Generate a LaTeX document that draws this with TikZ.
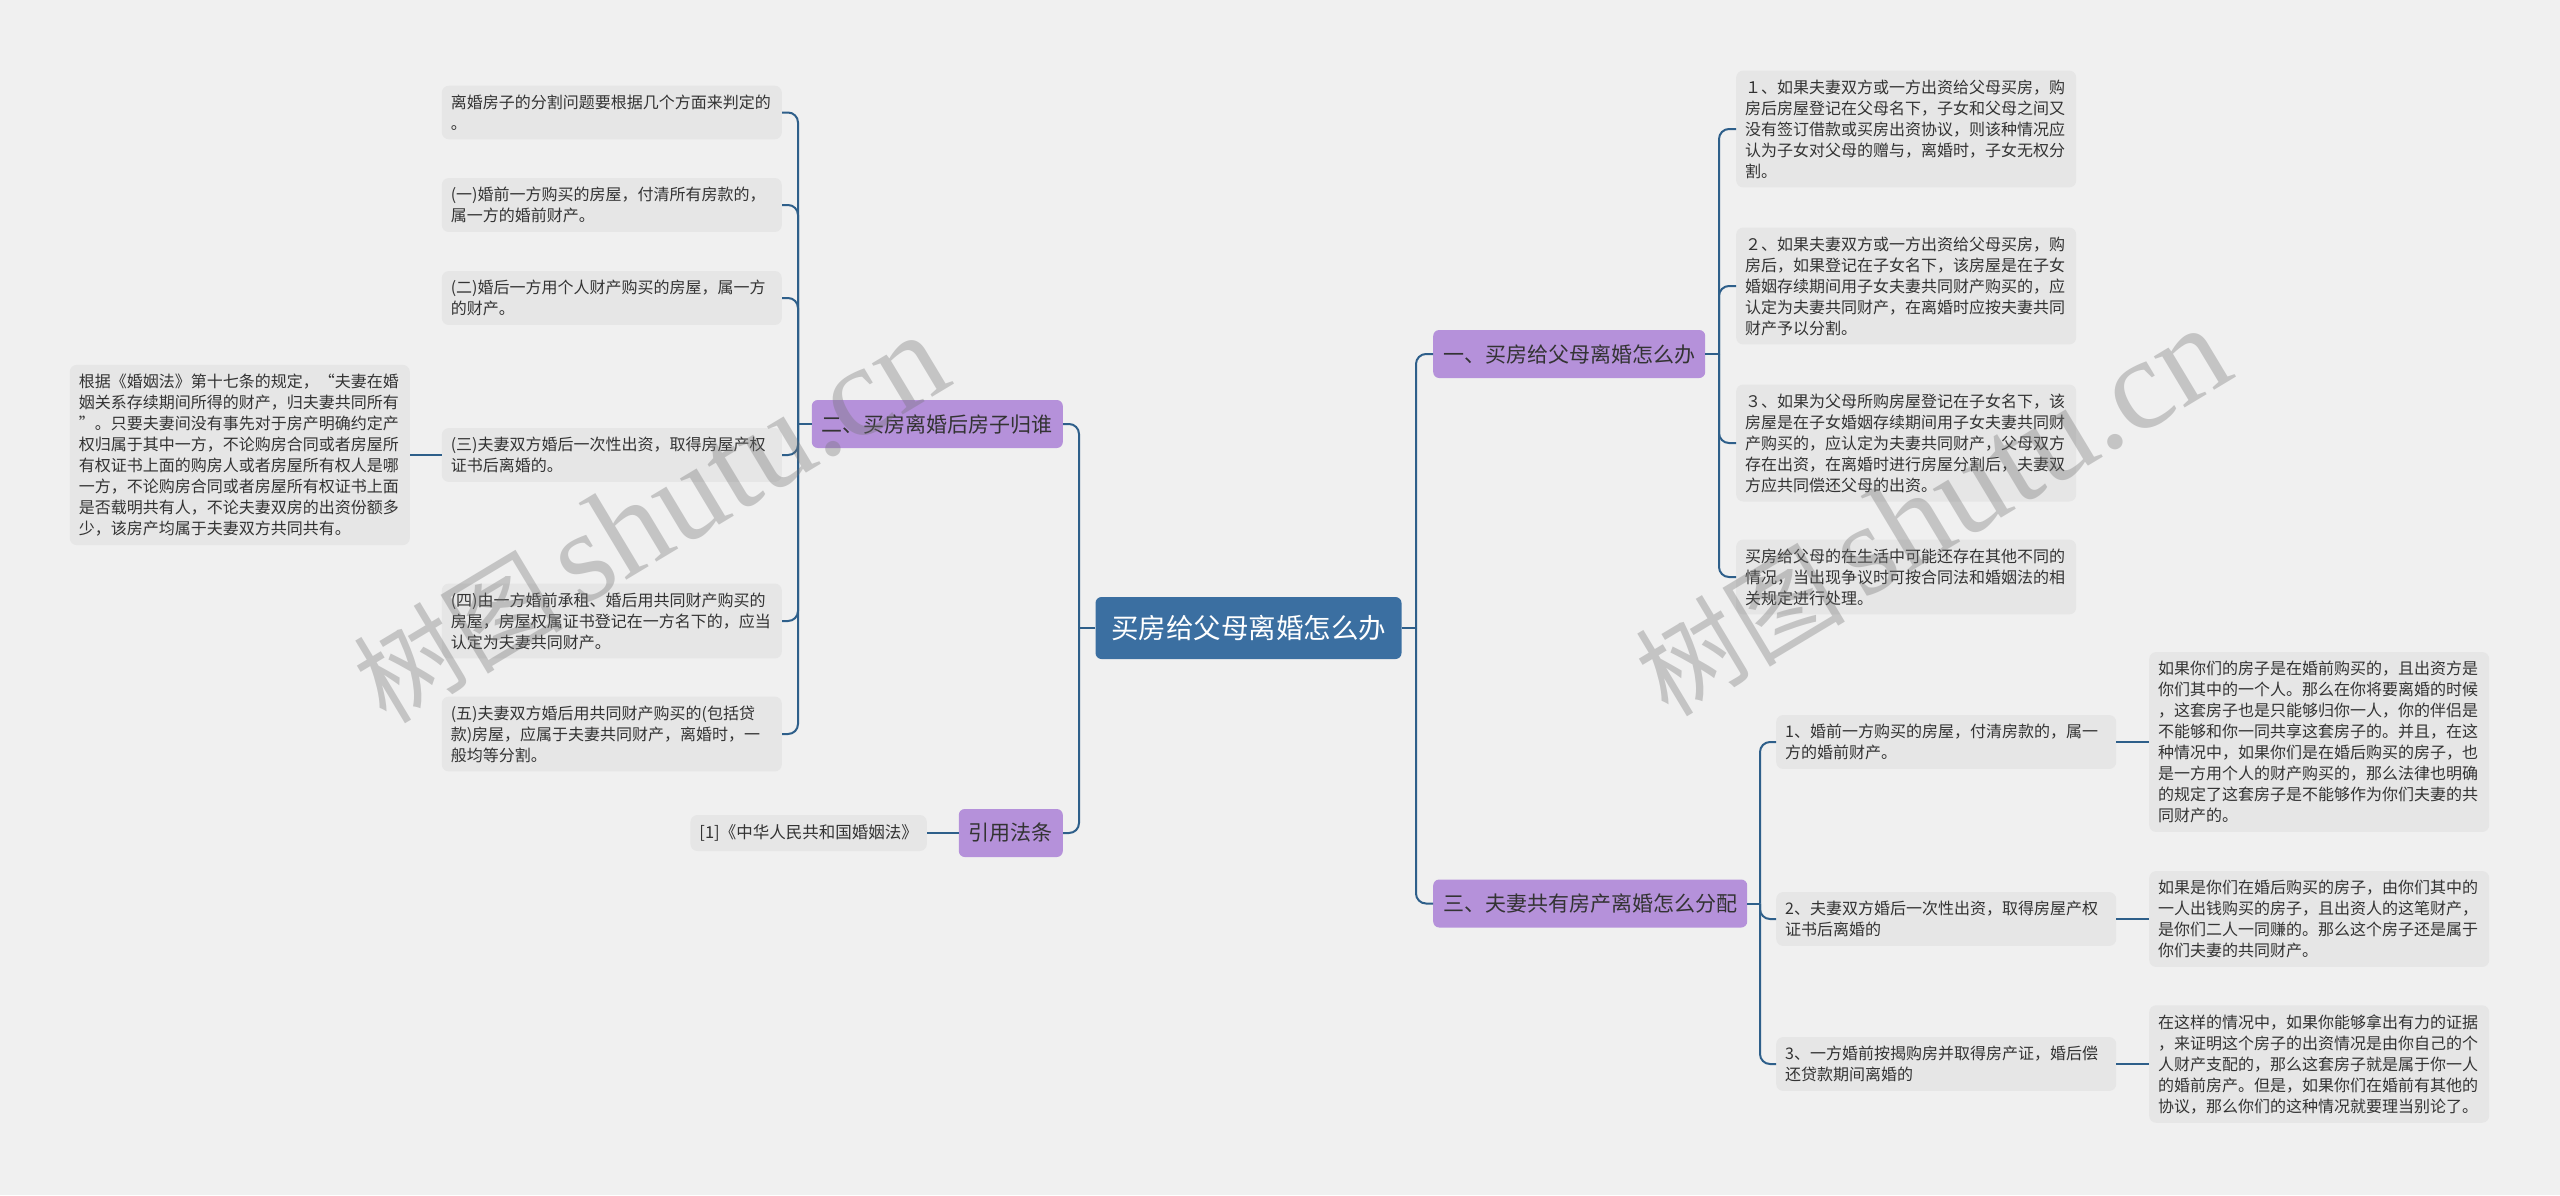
\documentclass[tikz,border=0pt]{standalone}
\usepackage{fontspec}
\setmainfont{Noto Sans CJK SC}
\newfontfamily\wmlatin{Liberation Serif}
\definecolor{bgcol}{HTML}{F0F0F0}
\definecolor{leafcol}{HTML}{E6E6E6}
\definecolor{rootcol}{HTML}{3B6FA1}
\definecolor{branchcol}{HTML}{B591DA}
\definecolor{linecol}{HTML}{2E5F8A}
\definecolor{textcol}{HTML}{333333}
\begin{document}
\begin{tikzpicture}[x=1pt, y=1pt,
    root/.style={fill=rootcol, rounded corners=6pt, text=white,
        font=\fontsize{27.5}{30}\selectfont, minimum width=306pt, minimum height=62pt},
    branch/.style={fill=branchcol, rounded corners=6pt, text=textcol,
        font=\fontsize{21}{24}\selectfont, inner xsep=10pt, minimum height=48pt},
    leaf/.style={fill=leafcol, rounded corners=7pt, text=textcol,
        font=\fontsize{16}{21}\selectfont, align=left, text width=322pt,
        inner xsep=9pt, inner ysep=9pt},
    link/.style={draw=linecol, line width=2pt, rounded corners=10pt},
    wm/.style={text=black!55, opacity=.35, rotate=31}]
\fill[bgcol] (0,0) rectangle (2560,-1195);
\useasboundingbox (0,0) rectangle (2560,-1195);

% main topic and branches
\node[root] (root) at (1248.5,-628) {买房给父母离婚怎么办};
\node[branch, anchor=west] (b1) at (1433,-354) {一、买房给父母离婚怎么办};
\node[branch, anchor=west] (b3) at (1433,-903.5) {三、夫妻共有房产离婚怎么分配};
\node[branch, anchor=east] (b2) at (1063,-424) {二、买房离婚后房子归谁};
\node[branch, anchor=east] (b4) at (1063,-833) {引用法条};

% left side
\node[leaf, anchor=east] (l1) at (782,-112.5) {离婚房子的分割问题要根据几个方面来判定的\\。};
\node[leaf, anchor=east] (l2) at (782,-205) {(一)婚前一方购买的房屋，付清所有房款的，\\属一方的婚前财产。};
\node[leaf, anchor=east] (l3) at (782,-298) {(二)婚后一方用个人财产购买的房屋，属一方\\的财产。};
\node[leaf, anchor=east] (l4) at (782,-455) {(三)夫妻双方婚后一次性出资，取得房屋产权\\证书后离婚的。};
\node[leaf, anchor=east] (l5) at (782,-621) {(四)由一方婚前承租、婚后用共同财产购买的\\房屋，房屋权属证书登记在一方名下的，应当\\认定为夫妻共同财产。};
\node[leaf, anchor=east] (l6) at (782,-734) {(五)夫妻双方婚后用共同财产购买的(包括贷\\款)房屋，应属于夫妻共同财产，离婚时，一\\般均等分割。};
\node[leaf, anchor=east] (law) at (410,-455) {根据《婚姻法》第十七条的规定，“夫妻在婚\\姻关系存续期间所得的财产，归夫妻共同所有\\”。只要夫妻间没有事先对于房产明确约定产\\权归属于其中一方，不论购房合同或者房屋所\\有权证书上面的购房人或者房屋所有权人是哪\\一方，不论购房合同或者房屋所有权证书上面\\是否载明共有人，不论夫妻双房的出资份额多\\少，该房产均属于夫妻双方共同共有。};
\node[leaf, anchor=east, text width=, minimum width=222pt, minimum height=36pt,
    font=\fontsize{16.5}{21}\selectfont] (cite) at (927,-833) {[1]《中华人民共和国婚姻法》};

% right side
\node[leaf, anchor=west] (r1) at (1736,-129) {１、如果夫妻双方或一方出资给父母买房，购\\房后房屋登记在父母名下，子女和父母之间又\\没有签订借款或买房出资协议，则该种情况应\\认为子女对父母的赠与，离婚时，子女无权分\\割。};
\node[leaf, anchor=west] (r2) at (1736,-286) {２、如果夫妻双方或一方出资给父母买房，购\\房后，如果登记在子女名下，该房屋是在子女\\婚姻存续期间用子女夫妻共同财产购买的，应\\认定为夫妻共同财产，在离婚时应按夫妻共同\\财产予以分割。};
\node[leaf, anchor=west] (r3) at (1736,-443) {３、如果为父母所购房屋登记在子女名下，该\\房屋是在子女婚姻存续期间用子女夫妻共同财\\产购买的，应认定为夫妻共同财产，父母双方\\存在出资，在离婚时进行房屋分割后，夫妻双\\方应共同偿还父母的出资。};
\node[leaf, anchor=west] (r4) at (1736,-577) {买房给父母的在生活中可能还存在其他不同的\\情况，当出现争议时可按合同法和婚姻法的相\\关规定进行处理。};

\node[leaf, anchor=west] (s1) at (1776,-742) {1、婚前一方购买的房屋，付清房款的，属一\\方的婚前财产。};
\node[leaf, anchor=west] (s2) at (1776,-919) {2、夫妻双方婚后一次性出资，取得房屋产权\\证书后离婚的};
\node[leaf, anchor=west] (s3) at (1776,-1064) {3、一方婚前按揭购房并取得房产证，婚后偿\\还贷款期间离婚的};
\node[leaf, anchor=west] (t1) at (2149,-742) {如果你们的房子是在婚前购买的，且出资方是\\你们其中的一个人。那么在你将要离婚的时候\\，这套房子也是只能够归你一人，你的伴侣是\\不能够和你一同共享这套房子的。并且，在这\\种情况中，如果你们是在婚后购买的房子，也\\是一方用个人的财产购买的，那么法律也明确\\的规定了这套房子是不能够作为你们夫妻的共\\同财产的。};
\node[leaf, anchor=west] (t2) at (2149,-919) {如果是你们在婚后购买的房子，由你们其中的\\一人出钱购买的房子，且出资人的这笔财产，\\是你们二人一同赚的。那么这个房子还是属于\\你们夫妻的共同财产。};
\node[leaf, anchor=west] (t3) at (2149,-1064) {在这样的情况中，如果你能够拿出有力的证据\\，来证明这个房子的出资情况是由你自己的个\\人财产支配的，那么这套房子就是属于你一人\\的婚前房产。但是，如果你们在婚前有其他的\\协议，那么你们的这种情况就要理当别论了。};

% connectors
\coordinate (rootr) at (1416,-628);
\coordinate (rootl) at (1079,-628);
\coordinate (b1s) at (1719,-354);
\coordinate (b3s) at (1760,-903.5);
\coordinate (b2s) at (798,-424);
\draw[link] (root.east) -- (rootr);
\draw[link] (root.west) -- (rootl);
\draw[link] (b1.east) -- (b1s);
\draw[link] (b3.east) -- (b3s);
\draw[link] (b2.west) -- (b2s);
\foreach \c in {b1,b3} \draw[link] (rootr) |- (\c.west);
\foreach \c in {b2,b4} \draw[link] (rootl) |- (\c.east);
\foreach \c in {r1,r2,r3,r4} \draw[link] (b1s) |- (\c.west);
\foreach \c in {s1,s2,s3} \draw[link] (b3s) |- (\c.west);
\foreach \c in {l1,l2,l3,l4,l5,l6} \draw[link] (b2s) |- (\c.east);
\draw[link] (l4.west) -- (law.east);
\draw[link] (b4.west) -- (cite.east);
\draw[link] (s1.east) -- (t1.west);
\draw[link] (s2.east) -- (t2.west);
\draw[link] (s3.east) -- (t3.west);

% watermark
\node[wm] (wm1) at (650,-519) {\fontsize{105}{110}\selectfont 树图\,{\wmlatin\fontsize{130}{130}\selectfont shutu.cn}};
\node[wm] (wm2) at (1932,-512) {\fontsize{105}{110}\selectfont 树图\,{\wmlatin\fontsize{130}{130}\selectfont shutu.cn}};
\end{tikzpicture}
\end{document}
